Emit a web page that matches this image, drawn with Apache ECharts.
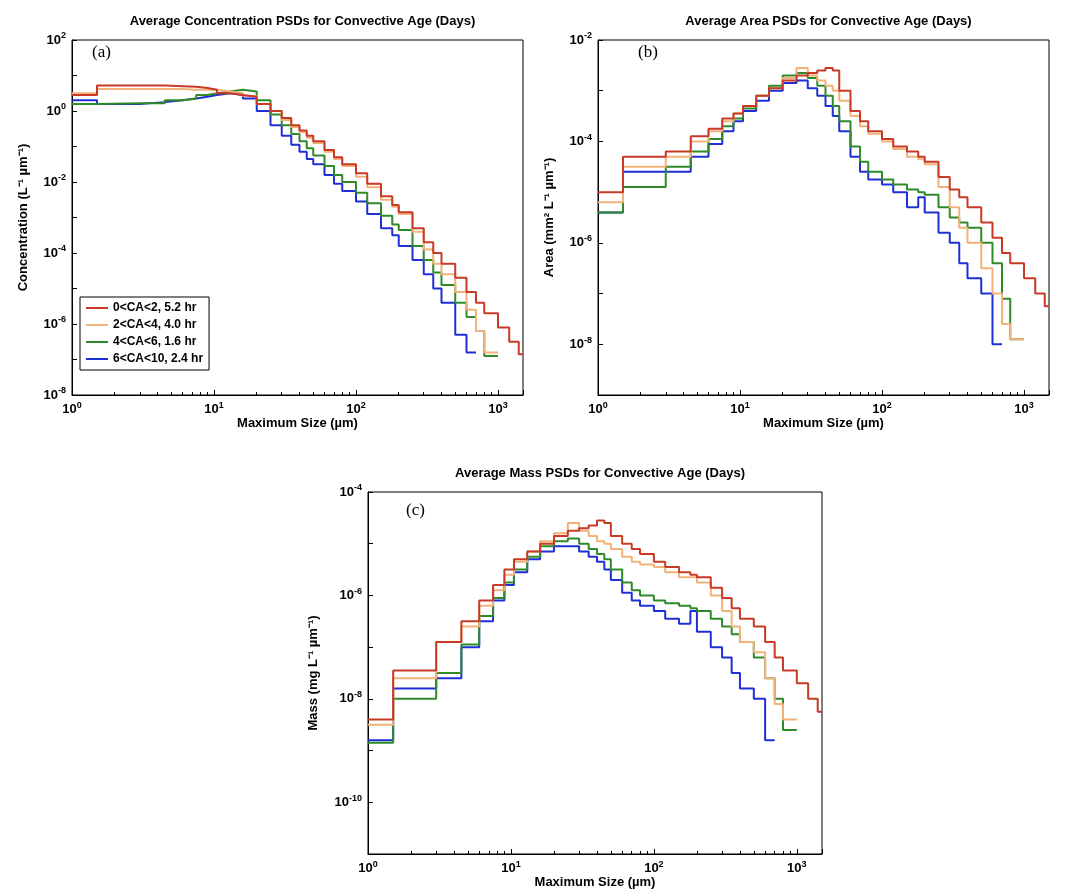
<!DOCTYPE html><html><head><meta charset="utf-8">
<script src="https://cdn.jsdelivr.net/npm/echarts@6/dist/echarts.min.js"></script>
<style>body{margin:0;background:#fff}#c{width:1077px;height:896px}</style></head><body><div id="c"></div>
<script>
const sizes=[1,1.5,3,4.5,6,7.5,9,10.5,13,16,20,25,30,35,40,45,50,60,70,80,100,120,150,180,200,250,300,350,400,500,600,700,800,1000,1200,1400,1500];
const seriesNames=['0<CA<2, 5.2 hr','2<CA<4, 4.0 hr','4<CA<6, 1.6 hr','6<CA<10, 2.4 hr'];
const colors=['#c83a26','#f2b279','#2f8a2a','#1f2fd6'];
// log10 values per bin (left edge = sizes[i])
const concRed=[0.45,0.72,0.72,0.7,0.68,0.65,0.6,0.5,0.45,0.4,0.2,0.0,-0.2,-0.4,-0.55,-0.7,-0.85,-1.1,-1.3,-1.5,-1.75,-2.05,-2.4,-2.65,-2.85,-3.3,-3.7,-4.0,-4.3,-4.7,-5.1,-5.4,-5.7,-6.1,-6.5,-6.85];
const concOrange=[0.5,0.62,0.62,0.62,0.6,0.6,0.6,0.55,0.5,0.42,0.2,0.0,-0.25,-0.45,-0.6,-0.75,-0.9,-1.15,-1.35,-1.55,-1.85,-2.15,-2.5,-2.7,-2.9,-3.4,-3.9,-4.3,-4.6,-5.1,-5.6,-6.2,-6.8,null,null,null];
const concGreen=[0.2,0.22,0.22,0.3,0.35,0.45,0.5,0.55,0.6,0.55,0.3,-0.1,-0.4,-0.65,-0.85,-1.05,-1.25,-1.55,-1.8,-2.0,-2.3,-2.6,-2.95,-3.2,-3.35,-3.8,-4.2,-4.55,-4.9,-5.4,-5.8,-6.2,-6.9,null,null,null];
const concBlue=[0.3,0.2,0.25,0.3,0.35,0.4,0.45,0.5,0.45,0.35,0.0,-0.4,-0.7,-0.95,-1.15,-1.35,-1.5,-1.8,-2.05,-2.25,-2.55,-2.9,-3.3,-3.5,-3.8,-4.2,-4.6,-5.0,-5.4,-6.3,-6.8,null,null,null,null,null];
const areaRed=[-5.0,-4.3,-4.2,-3.9,-3.75,-3.55,-3.45,-3.3,-3.1,-2.95,-2.8,-2.7,-2.65,-2.6,-2.55,-2.6,-3.0,-3.4,-3.6,-3.8,-3.95,-4.1,-4.2,-4.3,-4.4,-4.7,-4.95,-5.1,-5.3,-5.6,-5.9,-6.2,-6.4,-6.7,-7.0,-7.25];
const areaOrange=[-5.2,-4.5,-4.3,-4.0,-3.8,-3.6,-3.45,-3.3,-3.1,-2.95,-2.75,-2.55,-2.7,-2.8,-2.9,-3.0,-3.2,-3.5,-3.7,-3.85,-4.0,-4.15,-4.3,-4.35,-4.45,-4.9,-5.3,-5.7,-6.0,-6.5,-7.0,-7.6,-7.9,null,null,null];
const areaGreen=[-5.4,-4.9,-4.5,-4.2,-3.95,-3.7,-3.55,-3.35,-3.1,-2.9,-2.7,-2.65,-2.75,-2.9,-3.1,-3.3,-3.6,-4.1,-4.4,-4.6,-4.75,-4.85,-4.95,-5.0,-5.05,-5.3,-5.5,-5.6,-5.7,-6.0,-6.4,-7.1,-7.9,null,null,null];
const areaBlue=[-5.4,-4.6,-4.6,-4.3,-4.05,-3.8,-3.6,-3.4,-3.2,-3.0,-2.85,-2.8,-2.95,-3.1,-3.3,-3.5,-3.8,-4.3,-4.6,-4.75,-4.85,-5.0,-5.3,-5.1,-5.4,-5.8,-6.0,-6.4,-6.7,-7.0,-8.0,null,null,null,null,null];
const massRed=[-8.4,-7.45,-6.9,-6.5,-6.1,-5.8,-5.5,-5.3,-5.15,-5.0,-4.85,-4.75,-4.7,-4.65,-4.55,-4.6,-4.85,-5.0,-5.1,-5.2,-5.35,-5.45,-5.55,-5.6,-5.65,-5.85,-6.05,-6.25,-6.45,-6.6,-6.9,-7.2,-7.45,-7.7,-8.0,-8.25];
const massOrange=[-8.5,-7.6,-6.9,-6.6,-6.2,-5.9,-5.6,-5.35,-5.15,-4.95,-4.8,-4.6,-4.75,-4.85,-4.95,-5.0,-5.1,-5.25,-5.35,-5.4,-5.45,-5.55,-5.65,-5.65,-5.75,-6.0,-6.3,-6.6,-6.9,-7.1,-7.6,-8.1,-8.4,null,null,null];
const massGreen=[-8.85,-8.0,-7.5,-6.95,-6.4,-6.05,-5.75,-5.5,-5.25,-5.05,-4.95,-4.9,-5.0,-5.1,-5.2,-5.3,-5.5,-5.75,-5.9,-6.0,-6.1,-6.15,-6.2,-6.25,-6.3,-6.45,-6.6,-6.75,-6.9,-7.2,-7.6,-8.0,-8.6,null,null,null];
const massBlue=[-8.8,-7.8,-7.6,-7.0,-6.5,-6.1,-5.8,-5.55,-5.3,-5.15,-5.05,-5.05,-5.15,-5.25,-5.35,-5.5,-5.7,-5.95,-6.1,-6.2,-6.3,-6.45,-6.55,-6.3,-6.7,-7.0,-7.2,-7.5,-7.8,-8.0,-8.8,null,null,null,null,null];

const panels=[
 {title:'Average Concentration PSDs for Convective Age (Days)',tag:'(a)',grid:{left:72,top:40,width:451,height:355},ymin:1e-8,ymax:1e2,yname:'Concentration (L⁻¹ µm⁻¹)',data:[concRed,concOrange,concGreen,concBlue],ygap:42},
 {title:'Average Area PSDs for Convective Age (Days)',tag:'(b)',grid:{left:598,top:40,width:451,height:355},ymin:1e-9,ymax:1e-2,yname:'Area (mm² L⁻¹ µm⁻¹)',data:[areaRed,areaOrange,areaGreen,areaBlue],ygap:42},
 {title:'Average Mass PSDs for Convective Age (Days)',tag:'(c)',grid:{left:368,top:492,width:454,height:362},ymin:1e-11,ymax:1e-4,yname:'Mass (mg L⁻¹ µm⁻¹)',data:[massRed,massOrange,massGreen,massBlue],ygap:48}
];
const sup=v=>{const e=Math.round(Math.log10(v));return '{b|10}{s|'+e+'}';};
const rich={b:{fontSize:13,fontWeight:'bold',fontFamily:'Liberation Sans',color:'#000'},s:{fontSize:9,fontWeight:'bold',fontFamily:'Liberation Sans',color:'#000',verticalAlign:'top',padding:[0,0,8,0]}};
const grid=[],xAxis=[],yAxis=[],series=[],title=[],graphic=[];
panels.forEach((p,k)=>{
 grid.push(Object.assign({show:true,borderColor:'#000',borderWidth:1},p.grid));
 xAxis.push({gridIndex:k,type:'log',logBase:10,min:1,max:1500,interval:1,name:'Maximum Size (µm)',nameLocation:'middle',nameGap:22,
  nameTextStyle:{fontSize:13,fontWeight:'bold',fontFamily:'Liberation Sans',color:'#000'},
  axisLine:{lineStyle:{color:'#000'}},axisTick:{inside:true,length:5,lineStyle:{color:'#000'}},minorTick:{show:true,splitNumber:9,length:3,lineStyle:{color:'#000'}},
  splitLine:{show:false},axisLabel:{formatter:v=>v>1100?'':sup(v),rich,margin:6}});
 const top=Math.round(Math.log10(p.ymax));
 yAxis.push({gridIndex:k,type:'log',logBase:10,min:p.ymin,max:p.ymax,interval:1,name:p.yname,nameLocation:'middle',nameGap:p.ygap,
  nameTextStyle:{fontSize:13,fontWeight:'bold',fontFamily:'Liberation Sans',color:'#000'},
  axisLine:{lineStyle:{color:'#000'}},axisTick:{inside:true,length:5,lineStyle:{color:'#000'}},
  splitLine:{show:false},axisLabel:{showMinLabel:true,showMaxLabel:true,hideOverlap:false,formatter:v=>{const e=Math.round(Math.log10(v));return (Math.abs(e-top)%2===0)?sup(v):'';},rich,margin:6}});
 const g=p.grid;
 title.push({text:p.title,left:g.left+g.width/2,top:g.top-30,textAlign:'center',textStyle:{fontSize:13,fontWeight:'bold',fontFamily:'Liberation Sans',color:'#000'}});
 graphic.push({type:'text',left:g.left+(k==2?38:(k==1?40:20)),top:g.top+(k==2?10:4),style:{text:p.tag,font:'17px "Liberation Serif"',fill:'#000'}});
 p.data.forEach((arr,j)=>{
  const d=[];let last=null;
  arr.forEach((v,i)=>{if(v!==null){d.push([sizes[i],Math.pow(10,v)]);last=i;}});
  d.push([sizes[last+1],Math.pow(10,arr[last])]);
  series.push({name:seriesNames[j],type:'line',step:'end',xAxisIndex:k,yAxisIndex:k,data:d,showSymbol:false,
   lineStyle:{color:colors[j],width:2},itemStyle:{color:colors[j]},z:10-j,clip:true,silent:true});
 });
});
const chart=echarts.init(document.getElementById('c'));
chart.setOption({animation:false,title,grid,xAxis,yAxis,series,graphic,
 legend:{data:seriesNames,orient:'vertical',left:80,top:297,itemWidth:22,itemHeight:2,itemGap:5,
  backgroundColor:'#fff',borderColor:'#000',borderWidth:1,padding:[5,6],icon:'rect',
  textStyle:{fontSize:12,fontWeight:'bold',fontFamily:'Liberation Sans',color:'#000'}}});
</script></body></html>
